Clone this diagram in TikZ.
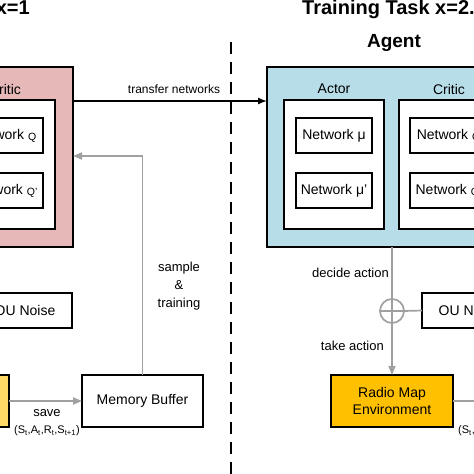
\documentclass[tikz,border=0pt]{standalone}
\usepackage{fontspec}
\setmainfont{Liberation Sans}
\usetikzlibrary{arrows.meta}
\definecolor{pinkfill}{HTML}{E6B9B8}
\definecolor{bluefill}{HTML}{B7DEE8}
\definecolor{envAfill}{HTML}{FFD966}
\definecolor{envBfill}{HTML}{FFC000}
\definecolor{gline}{HTML}{A0A0A0}
\newcommand\boxat[7]{\node[#6, minimum width={(#4)-(#2)}, minimum height={(#5)-(#3)}] (#1) at ({((#2)+(#4))/2},{((#3)+(#5))/2}) {#7};}
\newcommand\netq[1]{Network \raisebox{-1pt}{\fontsize{10.5}{10.5}\selectfont Q#1}}
\tikzset{
  frame/.style={draw=black, line width=1.4pt, inner sep=0pt, outer sep=0pt, font=\fontsize{14}{17}\selectfont},
  ttl/.style={inner sep=0pt, font=\bfseries\fontsize{20}{22}\selectfont},
  agentttl/.style={inner sep=0pt, font=\bfseries\fontsize{19}{21}\selectfont},
  lab14/.style={inner sep=0pt, font=\fontsize{14}{17}\selectfont},
  lab/.style={inner sep=0pt, font=\fontsize{13}{18}\selectfont},
  smalllab/.style={inner sep=0pt, font=\fontsize{12}{14}\selectfont},
  tuplelab/.style={inner sep=0pt, font=\fontsize{11}{13}\selectfont},
  gwire/.style={draw=gline, line width=1.7pt},
  garrow/.style={gwire, -{Triangle[length=9pt,width=7pt]}},
  tarrow/.style={draw=black, line width=1.4pt, -{Latex[length=9pt,width=7pt]}},
  divider/.style={draw=black, line width=1.8pt, dash pattern=on 12pt off 8pt},
  plus/.style={circle, draw=gline, line width=1.7pt, minimum size=24pt, inner sep=0pt, outer sep=0pt,
    path picture={\draw[gline, line width=1.7pt] (path picture bounding box.north) -- (path picture bounding box.south) (path picture bounding box.west) -- (path picture bounding box.east);}},
}
\begin{document}
\begin{tikzpicture}[x=1pt,y=-1pt]
\useasboundingbox (0,0) rectangle (474,474);
\clip (0,0) rectangle (474,474);
\fill[white] (0,0) rectangle (474,474);
% titles
\node[ttl, anchor=east] (t1) at (30,9) {Training Task x=1};
\node[ttl, anchor=west] (t2) at (302,9) {Training Task x=2...};
\node[agentttl] (agentlab) at (394,43) {Agent};
% divider
\coordinate (dtop) at (231,42);
\coordinate (dbot) at (231,480);
\draw[divider] (dtop) -- (dbot);
% ---- left panel ----
\boxat{critA}{-177}{67}{73}{247}{frame, fill=pinkfill}{}
\node[lab14] (critlabA) at (5,89) {Critic};
\boxat{critinA}{-45}{100}{55}{229}{frame, fill=white}{}
\boxat{nqA}{-34}{118}{43}{153}{frame, fill=white}{\netq{}}
\boxat{nqpA}{-34}{173}{43}{208}{frame, fill=white}{\netq{'}}
\boxat{ouA}{-22}{293}{72}{328}{frame}{OU Noise}
\boxat{envA}{-113}{375}{9}{427}{frame, fill=envAfill}{}
\boxat{mbA}{82}{375}{203}{427}{frame}{Memory Buffer}
\draw[garrow] (envA.east) -- (mbA.west);
\node[lab] (saveA) at (47,413) {save};
\node[tuplelab] (tupA) at (47,431) {(S\textsubscript{t},A\textsubscript{t},R\textsubscript{t},S\textsubscript{t+1})};
\coordinate (sA) at (142.5,156);
\draw[garrow] (mbA.north) -- (sA) -- (sA -| critA.east);
\node[lab, align=center] (stA) at (179,286) {sample\\\&\\training};
% ---- right panel ----
\boxat{agB}{267}{67}{516}{247}{frame, fill=bluefill}{}
\node[lab14] (actlab) at (334,89) {Actor};
\node[lab14] (critlabB) at (449,89) {Critic};
\boxat{actB}{284}{100}{384}{229}{frame, fill=white}{}
\boxat{critinB}{399}{100}{499}{229}{frame, fill=white}{}
\boxat{nmu}{296}{118}{372}{153}{frame, fill=white}{Network μ}
\boxat{nmup}{296}{173}{372}{208}{frame, fill=white}{Network μ'}
\boxat{nqB}{410}{118}{487}{153}{frame, fill=white}{\netq{}}
\boxat{nqpB}{410}{173}{487}{208}{frame, fill=white}{\netq{'}}
% transfer
\coordinate (trA) at (73,101);
\draw[tarrow] (trA) -- (trA -| agB.west);
\node[smalllab] (trlab) at (174,89) {transfer networks};
% action chain
\node[plus] (sum) at (392,311) {};
\draw[gwire] (sum |- agB.south) -- (sum.north);
\boxat{ouB}{422}{293}{516}{328}{frame}{OU Noise}
\draw[gwire] (ouB.west) -- (sum.east);
\boxat{envB}{331}{375}{453}{427}{frame, fill=envBfill, align=center}{Radio Map\\Environment}
\draw[garrow] (sum.south) -- (sum |- envB.north);
\node[lab, anchor=east] (dec) at (389,273) {decide action};
\node[lab, anchor=east] (take) at (384,346) {take action};
\coordinate (mbB) at (526,401);
\draw[garrow] (envB.east) -- (mbB);
\node[tuplelab] (tupB) at (491,431) {(S\textsubscript{t},A\textsubscript{t},R\textsubscript{t},S\textsubscript{t+1})};
\end{tikzpicture}
\end{document}
